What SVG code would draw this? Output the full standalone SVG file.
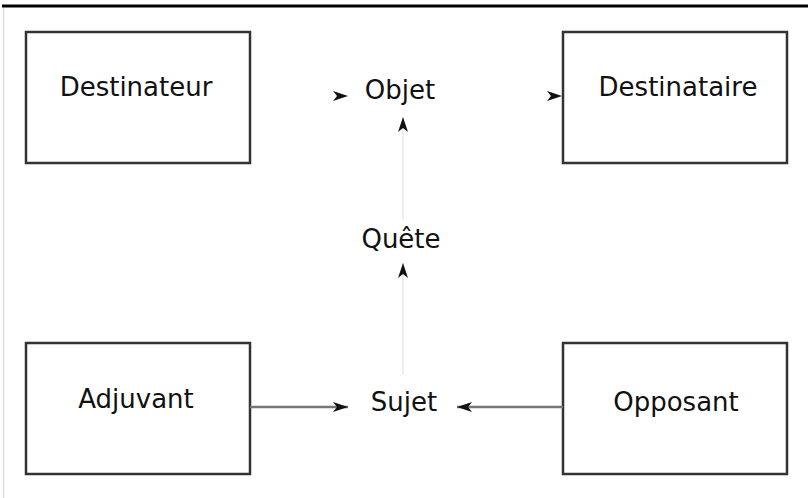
<svg xmlns="http://www.w3.org/2000/svg" width="808" height="498" viewBox="0 0 808 498">
<style>
.box{fill:#fff;stroke:#333;stroke-width:2.5}
.lbl{font-family:"DejaVu Sans",sans-serif;font-size:26px;fill:#111;text-anchor:middle}
.edge{fill:none;stroke:#777;stroke-width:2.5}
.faint{fill:none;stroke:#e8e8e8;stroke-width:1.5}
</style>
<defs>
<marker id="ah" markerWidth="16" markerHeight="10" refX="15" refY="5" orient="auto" markerUnits="userSpaceOnUse">
<path d="M0,0 L15,5 L0,10 L4,5 Z" fill="#111"/>
</marker>
</defs>
<rect x="0" y="0" width="808" height="498" fill="#fff"/>
<line x1="2" y1="6" x2="808" y2="6" stroke="#000" stroke-width="3"/>
<line x1="3.5" y1="8" x2="3.5" y2="498" stroke="#ddd" stroke-width="1.5"/>
<g id="destinateur"><rect class="box" x="26" y="32" width="224" height="131"/><text class="lbl" x="136" y="96">Destinateur</text></g>
<g id="destinataire"><rect class="box" x="563" y="32" width="224" height="131"/><text class="lbl" x="678" y="96">Destinataire</text></g>
<g id="adjuvant"><rect class="box" x="26" y="343" width="224" height="131"/><text class="lbl" x="136" y="408">Adjuvant</text></g>
<g id="opposant"><rect class="box" x="563" y="343" width="224" height="131"/><text class="lbl" x="676" y="411">Opposant</text></g>
<g id="objet"><text class="lbl" x="400" y="99">Objet</text></g>
<g id="quete"><text class="lbl" x="401" y="248">Quête</text></g>
<g id="sujet"><text class="lbl" x="404" y="411">Sujet</text></g>
<g id="connectors">
<path d="M250,96 L348,96" stroke="none" fill="none" marker-end="url(#ah)"/>
<path d="M450,96 L562,96" stroke="none" fill="none" marker-end="url(#ah)"/>
<path class="faint" d="M403,220 L403,117" marker-end="url(#ah)"/>
<path class="faint" d="M403,375 L403,263" marker-end="url(#ah)"/>
<path class="edge" d="M250,407 L348,407" marker-end="url(#ah)"/>
<path class="edge" d="M563,407 L457,407" marker-end="url(#ah)"/>
</g>
</svg>
